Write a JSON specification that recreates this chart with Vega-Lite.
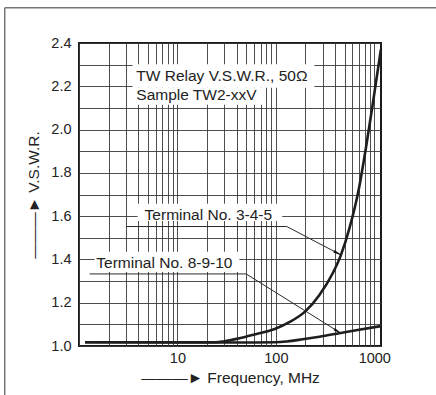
{
  "$schema": "https://vega.github.io/schema/vega-lite/v6.json",
  "width": 302,
  "height": 303,
  "autosize": "none",
  "padding": {"left": 79, "top": 43, "right": 55, "bottom": 49},
  "background": "white",
  "config": {
    "view": {"stroke": "#1a1a1a", "strokeWidth": 2},
    "font": "Liberation Sans",
    "axis": {
      "labelFont": "Liberation Sans",
      "labelFontSize": 14.5,
      "labelColor": "#222",
      "titleFont": "Liberation Sans",
      "titleFontSize": 15.5,
      "titleFontWeight": "normal",
      "titleColor": "#222",
      "gridColor": "#3a3a3a",
      "gridWidth": 0.9,
      "gridOpacity": 1,
      "domain": false,
      "ticks": false,
      "tickSize": 0
    }
  },
  "datasets": {
    "curves": [
      {"series": "3-4-5", "f": 1.15, "v": 1.017},
      {"series": "3-4-5", "f": 10, "v": 1.017},
      {"series": "3-4-5", "f": 24.7, "v": 1.017},
      {"series": "3-4-5", "f": 30, "v": 1.022},
      {"series": "3-4-5", "f": 40, "v": 1.033},
      {"series": "3-4-5", "f": 53.9, "v": 1.047},
      {"series": "3-4-5", "f": 75, "v": 1.063},
      {"series": "3-4-5", "f": 98.8, "v": 1.08},
      {"series": "3-4-5", "f": 137, "v": 1.11},
      {"series": "3-4-5", "f": 199, "v": 1.16},
      {"series": "3-4-5", "f": 276, "v": 1.235},
      {"series": "3-4-5", "f": 377, "v": 1.335},
      {"series": "3-4-5", "f": 458, "v": 1.42},
      {"series": "3-4-5", "f": 556, "v": 1.54},
      {"series": "3-4-5", "f": 703, "v": 1.735},
      {"series": "3-4-5", "f": 822, "v": 1.915},
      {"series": "3-4-5", "f": 959, "v": 2.11},
      {"series": "3-4-5", "f": 1038, "v": 2.215},
      {"series": "3-4-5", "f": 1167, "v": 2.37},
      {"series": "8-9-10", "f": 1.15, "v": 1.017},
      {"series": "8-9-10", "f": 50, "v": 1.016},
      {"series": "8-9-10", "f": 100, "v": 1.017},
      {"series": "8-9-10", "f": 130, "v": 1.021},
      {"series": "8-9-10", "f": 187, "v": 1.031},
      {"series": "8-9-10", "f": 277, "v": 1.043},
      {"series": "8-9-10", "f": 441, "v": 1.059},
      {"series": "8-9-10", "f": 700, "v": 1.075},
      {"series": "8-9-10", "f": 1167, "v": 1.092}
    ],
    "leaders": [
      {"id": "a", "o": 1, "f": 3.03, "v": 1.552},
      {"id": "a", "o": 2, "f": 129, "v": 1.552},
      {"id": "a", "o": 3, "f": 458, "v": 1.421},
      {"id": "b", "o": 1, "f": 1.28, "v": 1.333},
      {"id": "b", "o": 2, "f": 49.9, "v": 1.333},
      {"id": "b", "o": 3, "f": 458, "v": 1.059}
    ],
    "boxes": [
      {"f": 3.5, "f2": 246, "v": 2.302, "v2": 2.193},
      {"f": 3.5, "f2": 75, "v": 2.193, "v2": 2.115},
      {"f": 3.94, "f2": 116, "v": 1.657, "v2": 1.578},
      {"f": 1.44, "f2": 42.6, "v": 1.435, "v2": 1.342}
    ],
    "labels": [
      {"f": 3.82, "v": 2.246, "text": "TW Relay V.S.W.R., 50Ω"},
      {"f": 3.82, "v": 2.158, "text": "Sample TW2-xxV"},
      {"f": 4.64, "v": 1.606, "text": "Terminal No. 3-4-5"},
      {"f": 1.5, "v": 1.383, "text": "Terminal No. 8-9-10"}
    ],
    "frameTop": [{"f": 0.176, "f2": 9000, "v": 2.563}],
    "frameLeft": [{"f": 0.176, "v": 2.563, "v2": 0.6}]
  },
  "encoding": {
    "x": {
      "field": "f",
      "type": "quantitative",
      "scale": {"type": "log", "domain": [1, 1170], "nice": false},
      "axis": {
        "title": "———►  Frequency, MHz",
        "values": [1, 2, 3, 4, 5, 6, 7, 8, 9, 10, 20, 30, 40, 50, 60, 70, 80, 90, 100, 200, 300, 400, 500, 600, 700, 800, 900, 1000],
        "labelExpr": "datum.value == 10 || datum.value == 100 || datum.value == 1000 ? '' + datum.value : ''",
        "labelPadding": 5,
        "titlePadding": 6,
        "grid": true,
        "labelFlush": false,
        "labelOverlap": false
      }
    },
    "y": {
      "field": "v",
      "type": "quantitative",
      "scale": {"domain": [1.0, 2.4], "nice": false, "zero": false},
      "axis": {
        "title": "———►   V.S.W.R.",
        "values": [1.0, 1.1, 1.2, 1.3, 1.4, 1.5, 1.6, 1.7, 1.8, 1.9, 2.0, 2.1, 2.2, 2.3, 2.4],
        "labelExpr": "round(datum.value * 10) % 2 == 0 ? format(datum.value, '.1f') : ''",
        "labelPadding": 8,
        "titlePadding": 9,
        "grid": true,
        "labelOverlap": false
      }
    }
  },
  "layer": [
    {
      "data": {"name": "boxes"},
      "mark": {"type": "rect", "fill": "white", "stroke": null},
      "encoding": {"x2": {"field": "f2"}, "y2": {"field": "v2"}}
    },
    {
      "data": {"name": "leaders"},
      "mark": {"type": "line", "color": "#2a2a2a", "strokeWidth": 1},
      "encoding": {"detail": {"field": "id"}, "order": {"field": "o"}}
    },
    {
      "data": {"values": [{"f": 414, "v": 1.4315}]},
      "mark": {"type": "point", "shape": "wedge", "filled": true, "color": "#111", "size": 110, "angle": 117.5, "opacity": 1}
    },
    {
      "data": {"values": [{"f": 416, "v": 1.0708}]},
      "mark": {"type": "point", "shape": "wedge", "filled": true, "color": "#111", "size": 110, "angle": 122, "opacity": 1}
    },
    {
      "data": {"name": "curves"},
      "mark": {"type": "line", "color": "#1e1e1e", "strokeWidth": 2.6, "interpolate": "monotone"},
      "encoding": {"detail": {"field": "series"}}
    },
    {
      "data": {"name": "labels"},
      "mark": {"type": "text", "align": "left", "baseline": "middle", "font": "Liberation Sans", "fontSize": 15.5, "color": "#222"},
      "encoding": {"text": {"field": "text"}}
    },
    {
      "data": {"name": "frameTop"},
      "mark": {"type": "rule", "color": "#777", "strokeWidth": 1.5, "clip": false},
      "encoding": {"x2": {"field": "f2"}}
    },
    {
      "data": {"name": "frameLeft"},
      "mark": {"type": "rule", "color": "#777", "strokeWidth": 1.5, "clip": false},
      "encoding": {"y2": {"field": "v2"}}
    }
  ]
}
